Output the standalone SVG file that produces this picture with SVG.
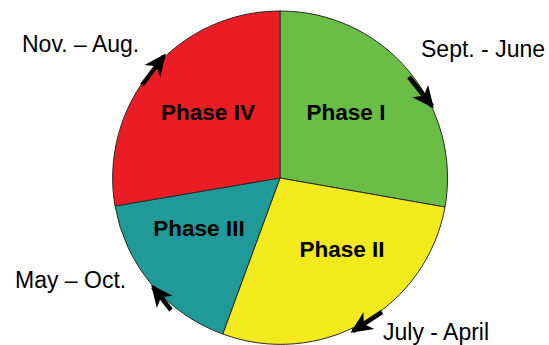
<svg xmlns="http://www.w3.org/2000/svg" width="549" height="345" viewBox="0 0 549 345">
<style>
.sec{stroke:#2a2a2a;stroke-width:1;stroke-linejoin:round}
.ph{font-family:"Liberation Sans",Arial,sans-serif;font-weight:bold;font-size:22.5px;fill:#000;text-anchor:middle}
.lb{font-family:"Liberation Sans",Arial,sans-serif;font-size:23px;fill:#000}
.arr{stroke:#000;stroke-width:4.5;fill:none;marker-end:url(#ah)}
</style>
<defs>
<marker id="ah" markerUnits="userSpaceOnUse" markerWidth="24" markerHeight="22" refX="19" refY="10" orient="auto" viewBox="0 0 24 20">
<path d="M0,0 L22,10 L0,20 L6,10 z" fill="#000"/>
</marker>
</defs>
<g id="phase1"><path class="sec" d="M280,178 L280,11 A167,167 0 0 1 445,207 Z" fill="#6abd45"/><text class="ph" x="346" y="120">Phase I</text></g>
<g id="phase2"><path class="sec" d="M280,178 L445,207 A167,167 0 0 1 222.7,334 Z" fill="#f2ea1a"/><text class="ph" x="342" y="257">Phase II</text></g>
<g id="phase3"><path class="sec" d="M280,178 L222.7,334 A167,167 0 0 1 115,206 Z" fill="#1f9a98"/><text class="ph" x="199" y="236">Phase III</text></g>
<g id="phase4"><path class="sec" d="M280,178 L115,206 A167,167 0 0 1 280,11 Z" fill="#ec1c24"/><text class="ph" x="208" y="120">Phase IV</text></g>
<g id="connectors">
<line class="arr" x1="142" y1="85" x2="164" y2="56"/>
<line class="arr" x1="409" y1="77" x2="432" y2="106"/>
<line class="arr" x1="382" y1="312" x2="353" y2="331"/>
<line class="arr" x1="171" y1="310" x2="153" y2="287"/>
</g>
<g id="labels">
<text class="lb" x="22" y="52">Nov. – Aug.</text>
<text class="lb" x="421" y="57">Sept. - June</text>
<text class="lb" x="15" y="288">May – Oct.</text>
<text class="lb" x="383" y="340">July - April</text>
</g>
</svg>
